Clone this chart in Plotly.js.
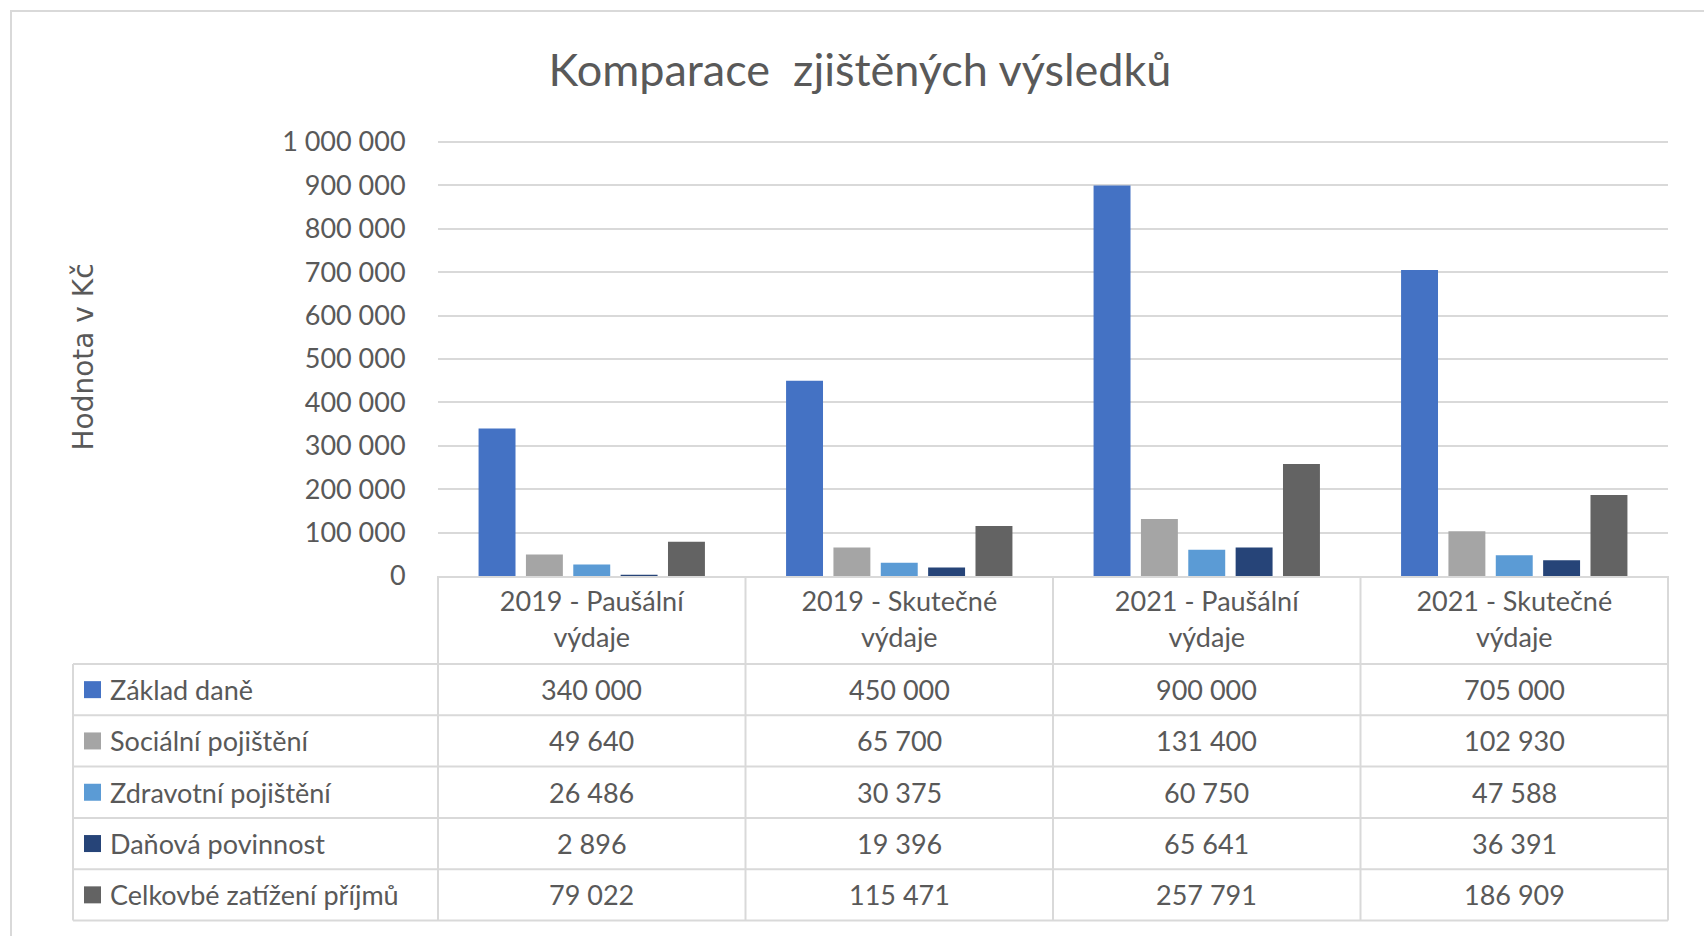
<!DOCTYPE html>
<html><head><meta charset="utf-8">
<script src="https://cdn.plot.ly/plotly-3.0.1.min.js"></script>
<style>html,body{margin:0;padding:0;background:#fff}</style>
</head><body><div id="chart" style="width:1704px;height:936px"></div>
<script>
const categories = ['2019 - Paušální výdaje','2019 - Skutečné výdaje','2021 - Paušální výdaje','2021 - Skutečné výdaje'];
const seriesNames = ['Základ daně','Sociální pojištění','Zdravotní pojištění','Daňová povinnost','Celkovbé zatížení příjmů'];
const zakladDane = [340000, 450000, 900000, 705000];
const socialniPojisteni = [49640, 65700, 131400, 102930];
const zdravotniPojisteni = [26486, 30375, 60750, 47588];
const danovaPovinnost = [2896, 19396, 65641, 36391];
const celkoveZatizeni = [79022, 115471, 257791, 186909];
const seriesColors = ['#4472C4','#A5A5A5','#5B9BD5','#264478','#636363'];
const yTickVals = [0,100000,200000,300000,400000,500000,600000,700000,800000,900000,1000000];

const seriesValues = [zakladDane, socialniPojisteni, zdravotniPojisteni, danovaPovinnost, celkoveZatizeni];

const W = 1704, H = 936, L = 438, R = 1668, T = 138, B = 576;
const PX_PER_MILLION = 434;                       // pixel height of 0..1 000 000
const yTop = 1000000 * (B - T) / PX_PER_MILLION;  // a bit of headroom so the top gridline is drawn
const px = x => (x - L) / (R - L);
const py = y => (B - y) / (B - T);
const FONT = 'Lato, "Open Sans", sans-serif';
const TXT = '#595959';
const GRID = '#d9d9d9';

const fmt = n => String(n).replace(/\B(?=(\d{3})+(?!\d))/g, ' ');
const xIdx = categories.map((c, i) => i);

const traces = seriesNames.map((name, s) => ({
  type: 'bar', name: name, x: xIdx, y: seriesValues[s],
  marker: {color: seriesColors[s]}, hoverinfo: 'skip'
}));

// table geometry
const headerBottom = 664, rowH = 51.3, tableLeft = 73;
const nRows = seriesNames.length;
const tableBottom = headerBottom + nRows * rowH;
const shapes = [];
const annotations = [];
// outer chart border (left/top visible)
shapes.push({type:'rect', xref:'paper', yref:'paper', x0: px(11), x1: px(1730), y0: py(11), y1: py(960),
  line:{color:GRID, width:2}, layer:'below'});
// vertical lines at category boundaries
for (let k = 0; k <= categories.length; k++) {
  const xp = k / categories.length;
  shapes.push({type:'line', xref:'paper', yref:'paper', x0: xp, x1: xp, y0: 0, y1: py(tableBottom), line:{color:GRID, width:2}});
}
// left column vertical
shapes.push({type:'line', xref:'paper', yref:'paper', x0: px(tableLeft), x1: px(tableLeft), y0: py(headerBottom), y1: py(tableBottom), line:{color:GRID, width:2}});
// horizontal lines
for (let r = 0; r <= nRows; r++) {
  const yy = py(headerBottom + r * rowH);
  shapes.push({type:'line', xref:'paper', yref:'paper', x0: px(tableLeft), x1: 1, y0: yy, y1: yy, line:{color:GRID, width:2}});
}
// row contents
seriesNames.forEach((name, r) => {
  const cy = headerBottom + r * rowH + rowH / 2;
  shapes.push({type:'rect', xref:'paper', yref:'paper', x0: px(84), x1: px(101), y0: py(cy - 8.5), y1: py(cy + 8.5),
    fillcolor: seriesColors[r], line:{width:0}});
  annotations.push({xref:'paper', yref:'paper', x: px(108), y: py(cy), xanchor:'left', yanchor:'middle',
    text: name, showarrow:false, font:{family:FONT, size:27, color:TXT}});
  seriesValues[r].forEach((v, c) => {
    annotations.push({xref:'x', yref:'paper', x: c, y: py(cy), xanchor:'center', yanchor:'middle',
      text: fmt(v), showarrow:false, font:{family:FONT, size:27, color:TXT}});
  });
});

const layout = {
  width: W, height: H,
  margin: {l: L, r: W - R, t: T, b: H - B, pad: 0},
  paper_bgcolor: '#fff', plot_bgcolor: '#fff',
  separators: ', ',
  font: {family: FONT, color: TXT, size: 27},
  title: {text: 'Komparace\u00a0 zjištěných výsledků', font: {family: FONT, size: 45, color: TXT},
    x: 860 / W, xanchor: 'center', xref: 'container', y: 1 - 70 / H, yanchor: 'middle'},
  showlegend: false,
  barmode: 'group', bargap: 0.23, bargroupgap: 0.22,
  xaxis: {type: 'linear', range: [-0.5, 3.5], tickvals: xIdx,
    ticktext: categories.map(c => c.replace(' výdaje', '<br>výdaje')),
    showgrid: false, zeroline: false, showline: true, linecolor: GRID, linewidth: 2,
    ticks: 'outside', ticklen: 1, tickcolor: 'rgba(0,0,0,0)',
    tickfont: {family: FONT, size: 27, color: TXT}, fixedrange: true},
  yaxis: {range: [0, yTop], tickvals: yTickVals, tickformat: ',d',
    showgrid: true, gridcolor: GRID, gridwidth: 2, zeroline: false,
    ticks: 'outside', ticklen: 26, tickcolor: 'rgba(0,0,0,0)',
    tickfont: {family: FONT, size: 27, color: TXT},
    title: {text: 'Hodnota v Kč', font: {family: '"DejaVu Sans", sans-serif', size: 28, color: TXT}, standoff: 180},
    fixedrange: true},
  shapes: shapes,
  annotations: annotations
};

Plotly.newPlot('chart', traces, layout, {displayModeBar: false, staticPlot: true});
</script></body></html>
